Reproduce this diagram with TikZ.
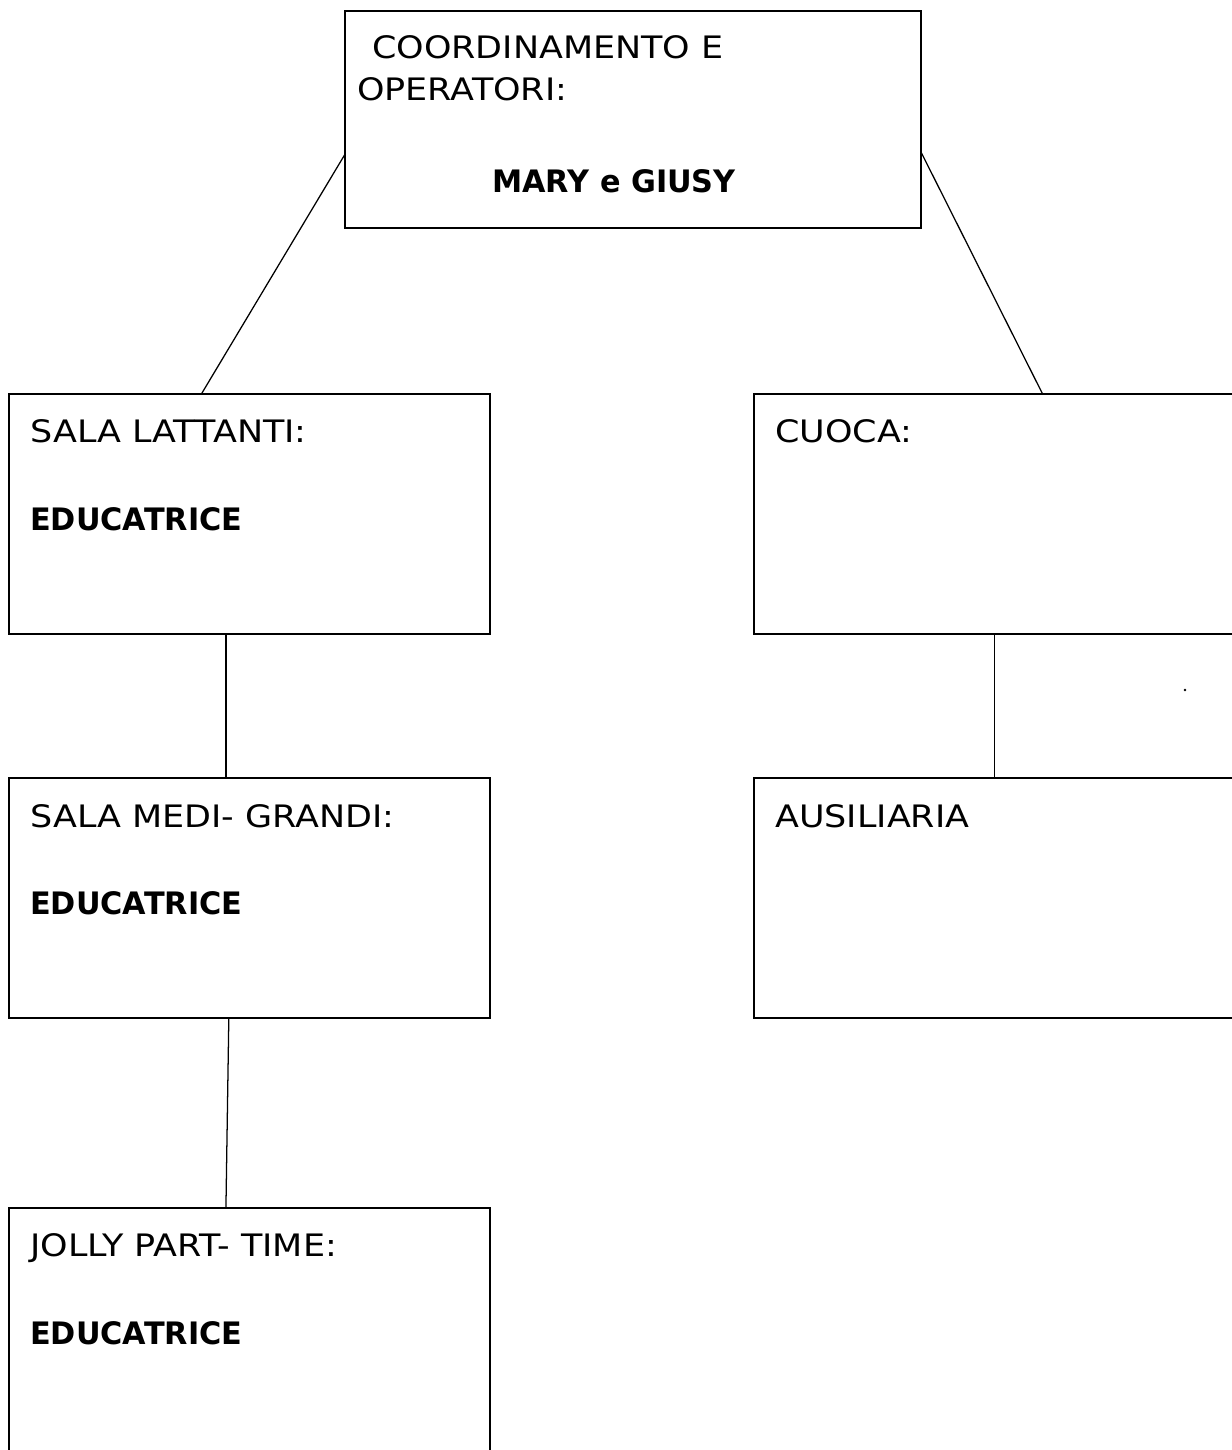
\documentclass[tikz,border=0pt]{standalone}
\usepackage{fontspec}
\setmainfont{DejaVu Sans}[FakeStretch=1.13, BoldFeatures={FakeStretch=0.98}]
\usetikzlibrary{positioning,calc}

\begin{document}
\begin{tikzpicture}[
  node distance=3.6cm and 6.6cm,
  box/.style={draw, line width=1.2pt, outer sep=0pt, inner sep=0pt,
              minimum width=12.025cm, minimum height=6cm},
  txt/.style={anchor=base west, inner sep=0pt, font=\fontsize{22}{26}\selectfont},
  bold/.style={txt, font=\fontsize{22}{26}\selectfont\bfseries},
  link/.style={line width=0.9pt}
]
\useasboundingbox (0,0) rectangle (30.8,-36.25);
\clip (0,0) rectangle (30.8,-36.25);

\node[box, minimum width=14.4cm, minimum height=5.425cm, anchor=north west] (coord) at (8.625,-0.275) {};
\node[box, anchor=north west] (lattanti) at (0.225,-9.85) {};
\node[box, right=of lattanti] (cuoca) {};
\node[box, below=of lattanti] (medi) {};
\node[box, below=of cuoca] (ausiliaria) {};
\node[box, minimum height=6.4cm, below=4.75cm of medi] (jolly) {};

\node[txt] (coord-a) at (9.3,-1.45) {COORDINAMENTO E};
\node[txt] (coord-b) at (8.925,-2.5) {OPERATORI:};
\node[bold] (coord-c) at (12.3,-4.8) {MARY e GIUSY};
\node[txt] (lattanti-a) at (0.75,-11.05) {SALA LATTANTI:};
\node[bold] (lattanti-b) at (0.75,-13.25) {EDUCATRICE};
\node[txt] (cuoca-a) at (19.375,-11.05) {CUOCA:};
\node[txt] (medi-a) at (0.75,-20.675) {SALA MEDI- GRANDI:};
\node[bold] (medi-b) at (0.75,-22.85) {EDUCATRICE};
\node[txt] (ausiliaria-a) at (19.375,-20.675) {AUSILIARIA};
\node[txt] (jolly-a) at (0.75,-31.4) {JOLLY PART- TIME:};
\node[bold] (jolly-b) at (0.75,-33.6) {EDUCATRICE};

\draw[link] ($(coord.south west)!0.34!(coord.north west)$) -- ($(lattanti.north west)!0.4!(lattanti.north east)$);
\draw[link] ($(coord.south east)!0.35!(coord.north east)$) -- ($(cuoca.north west)!0.6!(cuoca.north east)$);
\draw[link] ($(lattanti.south west)!0.451!(lattanti.south east)$) -- ($(medi.north west)!0.451!(medi.north east)$);
\draw[link] (cuoca.south) -- (ausiliaria.north);
\draw[link] ($(medi.south west)!0.457!(medi.south east)$) -- ($(jolly.north west)!0.451!(jolly.north east)$);

\fill (29.625,-17.25) circle (1pt);

\end{tikzpicture}
\end{document}
